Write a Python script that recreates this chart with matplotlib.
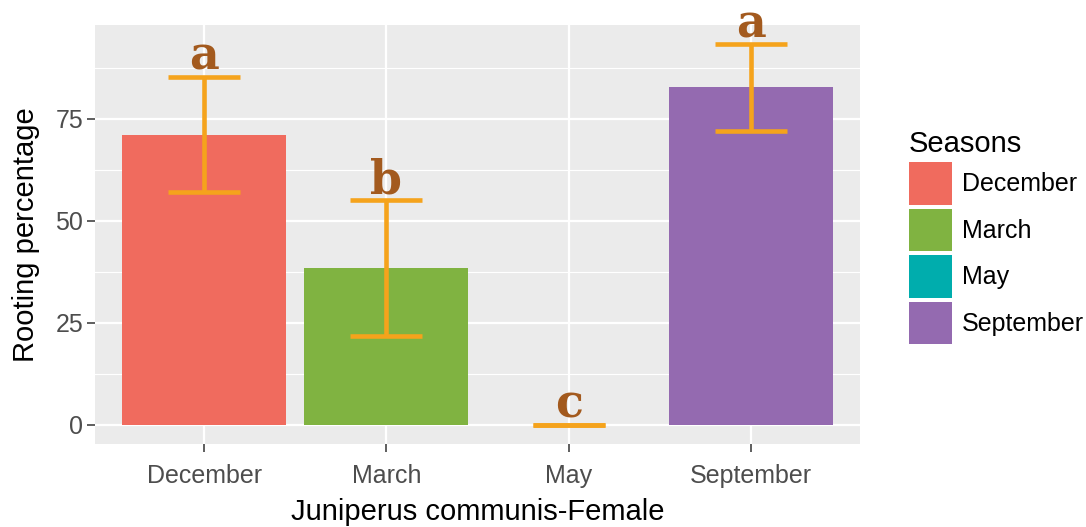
import matplotlib.pyplot as plt
from matplotlib.patches import Patch
import numpy as np

# data
seasons = ["December", "March", "May", "September"]
rooting = [71.1, 38.4, 0.0, 82.9]
err_low = [57.0, 21.8, 0.0, 72.1]
err_high = [85.3, 55.0, 0.0, 93.3]
letters = ["a", "b", "c", "a"]

bar_colors = ["#F06B5E", "#80B341", "#00ADAD", "#946AB0"]
err_color = "#F5A31C"
letter_color = "#A35A1E"

plt.rcParams['font.family'] = ['Liberation Sans', 'DejaVu Sans']

fig = plt.figure(figsize=(10.86, 5.27), dpi=100)
W, H = 1086, 527
ax = fig.add_axes([95 / W, (H - 444) / H, 765 / W, (444 - 25) / H])

x = np.arange(1, len(seasons) + 1)
ax.set_facecolor("#EBEBEB")
ax.set_axisbelow(True)

# grid like ggplot
ax.set_yticks([0, 25, 50, 75])
ax.set_yticks([12.5, 37.5, 62.5, 87.5], minor=True)
ax.set_xticks(x)
ax.grid(True, which='major', color='white', linewidth=1.6)
ax.grid(True, which='minor', axis='y', color='white', linewidth=0.8)

ax.bar(x, rooting, width=0.9, color=bar_colors, zorder=2)

yerr = [np.array(rooting) - np.array(err_low), np.array(err_high) - np.array(rooting)]
ax.errorbar(x, rooting, yerr=yerr, fmt='none', ecolor=err_color,
            elinewidth=3.3, capsize=26, capthick=3.3, zorder=3)

for xi, top, lab in zip(x, err_high, letters):
    ax.annotate(lab, (xi, top), xytext=(0, 5), textcoords='offset points',
                ha='center', va='baseline', fontsize=33, fontweight='bold',
                family='DejaVu Serif', color=letter_color, zorder=4)

ax.set_xlim(0.4, 4.6)
ax.set_ylim(-4.67, 97.97)
ax.set_xticklabels(seasons)
ax.tick_params(axis='both', which='major', length=5.5, width=1.1, color='#333333',
               labelsize=18, labelcolor='#4D4D4D', pad=3)
ax.tick_params(axis='x', which='major', pad=9)
ax.tick_params(axis='y', which='minor', length=0)
for s in ax.spines.values():
    s.set_visible(False)

ax.set_xlabel("Juniperus communis-Female", fontsize=21, color='black', labelpad=7)
ax.set_ylabel("Rooting percentage", fontsize=21, color='black', labelpad=11)

# legend
handles = [Patch(facecolor=c, edgecolor='none') for c in bar_colors]
leg = fig.legend(handles, seasons, title="Seasons", loc='upper left',
                 bbox_to_anchor=(891 / W, 1 - 113 / H), frameon=False,
                 fontsize=18, title_fontsize=21, handlelength=1.75,
                 handleheight=2.25, labelspacing=0.15, handletextpad=0.4,
                 borderpad=0.2)
leg._legend_box.align = "left"

fig.savefig("out.png", dpi=100)
